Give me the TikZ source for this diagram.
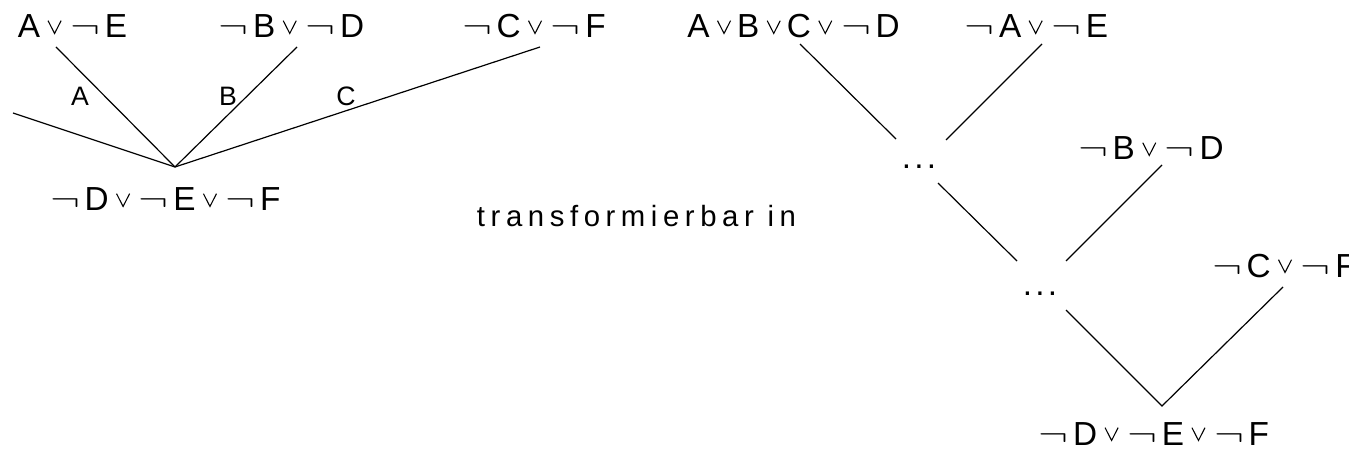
\documentclass[tikz,border=0pt]{standalone}
\usepackage{fontspec}
\setmainfont{Liberation Sans}
\newfontfamily\gesperrt{Liberation Sans}[LetterSpace=19]
\newcommand{\oder}{\kern5.5pt\tikz[baseline=0pt] \draw[line width=0.8pt] (0pt,13pt) -- (4.9pt,3.4pt) -- (9.8pt,13pt);\kern4.5pt}
\newcommand{\nicht}{\kern2pt\scalebox{1.35}[1]{$\neg$}\kern3.5pt}
\newcommand{\punkte}{.\kern2.5pt.\kern2.5pt.}

\begin{document}
\begin{tikzpicture}[x=0.75pt,y=-0.75pt,line width=0.9pt,
	formel/.style={inner sep=0pt,anchor=base,font=\fontsize{25}{30}\selectfont},
	marke/.style={inner sep=0pt,anchor=base,font=\fontsize{20}{24}\selectfont}]
	\useasboundingbox (0,0) rectangle (1349,452);
	\clip (0,0) rectangle (1349,452);
	% linker Baum
	\node [formel] (ae) at (72.5,38) {A\oder\nicht E};
	\node [formel] (bd) at (290,38) {\nicht B\oder\nicht D};
	\node [formel] (cf) at (532.5,38) {\nicht C\oder\nicht F};
	\node [formel] (def) at (164,211) {\nicht D\oder\nicht E\oder\nicht F};
	\node [marke] (la) at (80,106) {A};
	\node [marke] (lb) at (228,106) {B};
	\node [marke] (lc) at (346,106) {C};
	\coordinate (k) at (175,167);
	\coordinate (frei) at (13,113);
	\coordinate (ae-u) at (56,47);
	\coordinate (bd-u) at (297,47);
	\coordinate (cf-u) at (540,47);
	\draw (frei) -- (k);
	\draw (ae-u) -- (k);
	\draw (bd-u) -- (k);
	\draw (cf-u) -- (k);
	% Text
	\node [inner sep=0pt,anchor=base,font=\gesperrt\fontsize{22}{26}\selectfont] (txt) at (636.5,227) {transformierbar in};
	% rechter Baum
	\node [formel] (abcd) at (793.5,38) {A\oder B\oder C\oder\nicht D};
	\node [formel] (nae) at (1035,38) {\nicht A\oder\nicht E};
	\node [formel] (nbd) at (1149.5,160) {\nicht B\oder\nicht D};
	\node [formel] (ncf) at (1282.5,277) {\nicht C\oder\nicht F};
	\node [formel] (rdef) at (1152.5,445) {\nicht D\oder\nicht E\oder\nicht F};
	\node [formel] (p1) at (919,169) {\punkte};
	\node [formel] (p2) at (1040,296) {\punkte};
	\coordinate (abcd-u) at (800,44);
	\coordinate (nae-u) at (1042,44);
	\coordinate (p1-l) at (896,139);
	\coordinate (p1-r) at (946,140);
	\coordinate (p1-u) at (938,183);
	\coordinate (p2-l) at (1017,261);
	\coordinate (p2-r) at (1066,261);
	\coordinate (p2-u) at (1066,310);
	\coordinate (nbd-u) at (1162,165);
	\coordinate (ncf-u) at (1283,287);
	\coordinate (w) at (1162,406);
	\draw (abcd-u) -- (p1-l);
	\draw (nae-u) -- (p1-r);
	\draw (p1-u) -- (p2-l);
	\draw (nbd-u) -- (p2-r);
	\draw (p2-u) -- (w) -- (ncf-u);
\end{tikzpicture}
\end{document}
